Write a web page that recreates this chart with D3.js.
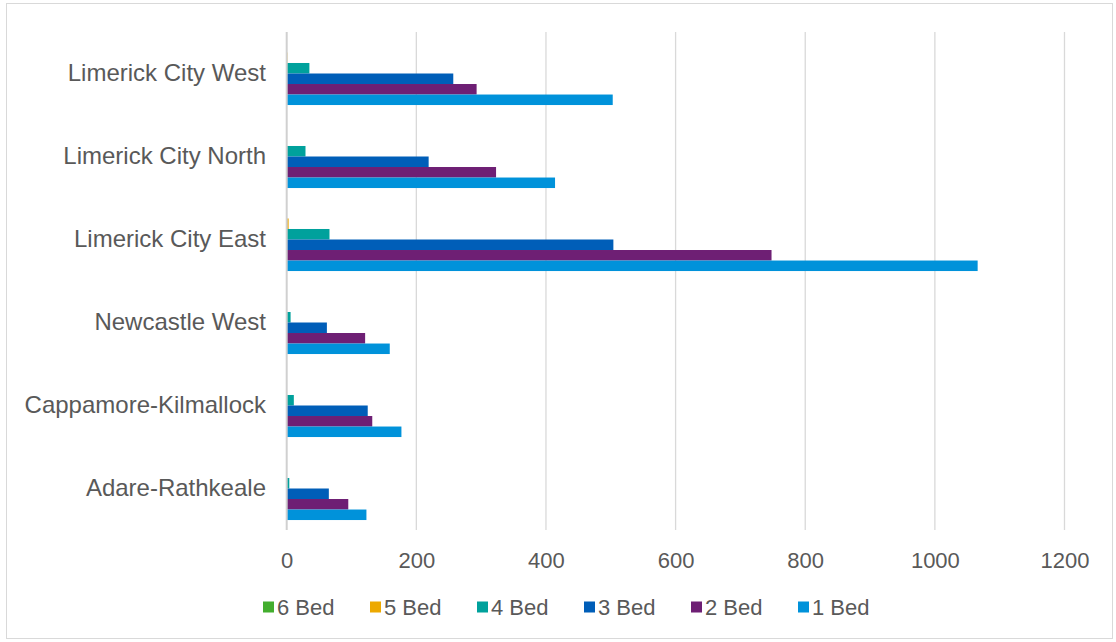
<!DOCTYPE html>
<html>
<head>
<meta charset="utf-8">
<script src="https://cdn.jsdelivr.net/npm/d3@7"></script>
<style>
  html, body { margin: 0; padding: 0; background: #fff; }
  svg { display: block; font-family: "Liberation Sans", Arial, sans-serif; }
</style>
</head>
<body>
<svg id="chart" width="1116" height="642"></svg>
<script>
// Local electoral areas, listed top to bottom
const areas = ["Limerick City West", "Limerick City North", "Limerick City East",
               "Newcastle West", "Cappamore-Kilmallock", "Adare-Rathkeale"];

// Series (bedroom counts), drawn top to bottom within each area
const seriesNames = ["6 Bed", "5 Bed", "4 Bed", "3 Bed", "2 Bed", "1 Bed"];
const seriesColors = ["#43AE2E", "#EDA900", "#00A19C", "#005EB8", "#6E1F74", "#0092DA"];

// Values per series, in the same order as areas
const bed6 = [0, 0, 0, 0, 0, 0];
const bed5 = [1, 0, 3, 0, 0, 0];
const bed4 = [35, 29, 66, 6, 11, 4];
const bed3 = [257, 219, 504, 62, 125, 65];
const bed2 = [293, 323, 748, 121, 132, 95];
const bed1 = [503, 414, 1066, 159, 177, 123];

const xTicks = [0, 200, 400, 600, 800, 1000, 1200];

const seriesValues = [bed6, bed5, bed4, bed3, bed2, bed1];
const rows = [];
seriesNames.forEach((s, si) => {
  areas.forEach((a, ai) => rows.push({ area: a, series: s, value: seriesValues[si][ai], color: seriesColors[si] }));
});

const svg = d3.select("#chart");
const textColor = "#595959";
const gridColor = "#D9D9D9";

// Outer frame
svg.append("rect")
  .attr("x", 6.5).attr("y", 3.5).attr("width", 1106).attr("height", 635)
  .attr("fill", "#fff").attr("stroke", gridColor).attr("stroke-width", 1);

const plot = { left: 286.7, right: 1064.5, top: 32, bottom: 530 };

const x = d3.scaleLinear().domain([0, 1200]).range([plot.left, plot.right]);
const y0 = d3.scaleBand().domain(areas).range([plot.top, plot.bottom])
  .paddingInner(0.24).paddingOuter(0.12);
const y1 = d3.scaleBand().domain(seriesNames).range([0, y0.bandwidth()]);

// Vertical gridlines
svg.append("g").selectAll("line")
  .data(xTicks.slice(1))
  .join("line")
  .attr("x1", d => x(d)).attr("x2", d => x(d))
  .attr("y1", plot.top).attr("y2", plot.bottom)
  .attr("stroke", gridColor).attr("stroke-width", 1.3);

// Bars
svg.append("g").selectAll("rect")
  .data(rows)
  .join("rect")
  .attr("x", x(0))
  .attr("y", d => y0(d.area) + y1(d.series))
  .attr("width", d => x(d.value) - x(0))
  .attr("height", y1.bandwidth())
  .attr("fill", d => d.color);

// Category axis line at zero
svg.append("line")
  .attr("x1", x(0)).attr("x2", x(0))
  .attr("y1", plot.top).attr("y2", plot.bottom)
  .attr("stroke", "#D0D0D0").attr("stroke-width", 2);

// X axis tick labels
const xAxis = d3.axisBottom(x).tickValues(xTicks).tickSize(0).tickPadding(0).tickFormat(d3.format("d"));
const gx = svg.append("g").attr("transform", `translate(0, ${plot.bottom})`).call(xAxis);
gx.select(".domain").remove();
gx.selectAll("text")
  .attr("y", 30).attr("dy", "0.35em")
  .attr("fill", textColor).attr("font-size", 22).attr("font-family", "Liberation Sans, Arial, sans-serif");

// Category labels
const yAxis = d3.axisLeft(y0).tickSize(0).tickPadding(0);
const gy = svg.append("g").attr("transform", `translate(266, 0)`).call(yAxis);
gy.select(".domain").remove();
gy.selectAll("text")
  .attr("x", 0).attr("dy", "0.3em")
  .attr("fill", textColor).attr("font-size", 24).attr("font-family", "Liberation Sans, Arial, sans-serif");

// Legend
const legend = svg.append("g").selectAll("g")
  .data(seriesNames)
  .join("g")
  .attr("transform", (d, i) => `translate(${263 + i * 107}, 607)`);
legend.append("rect")
  .attr("x", 0).attr("y", -5.5).attr("width", 11).attr("height", 11)
  .attr("fill", (d, i) => seriesColors[i]);
legend.append("text")
  .attr("x", 14).attr("dy", "0.35em")
  .attr("fill", textColor).attr("font-size", 22)
  .text(d => d);
</script>
</body>
</html>
